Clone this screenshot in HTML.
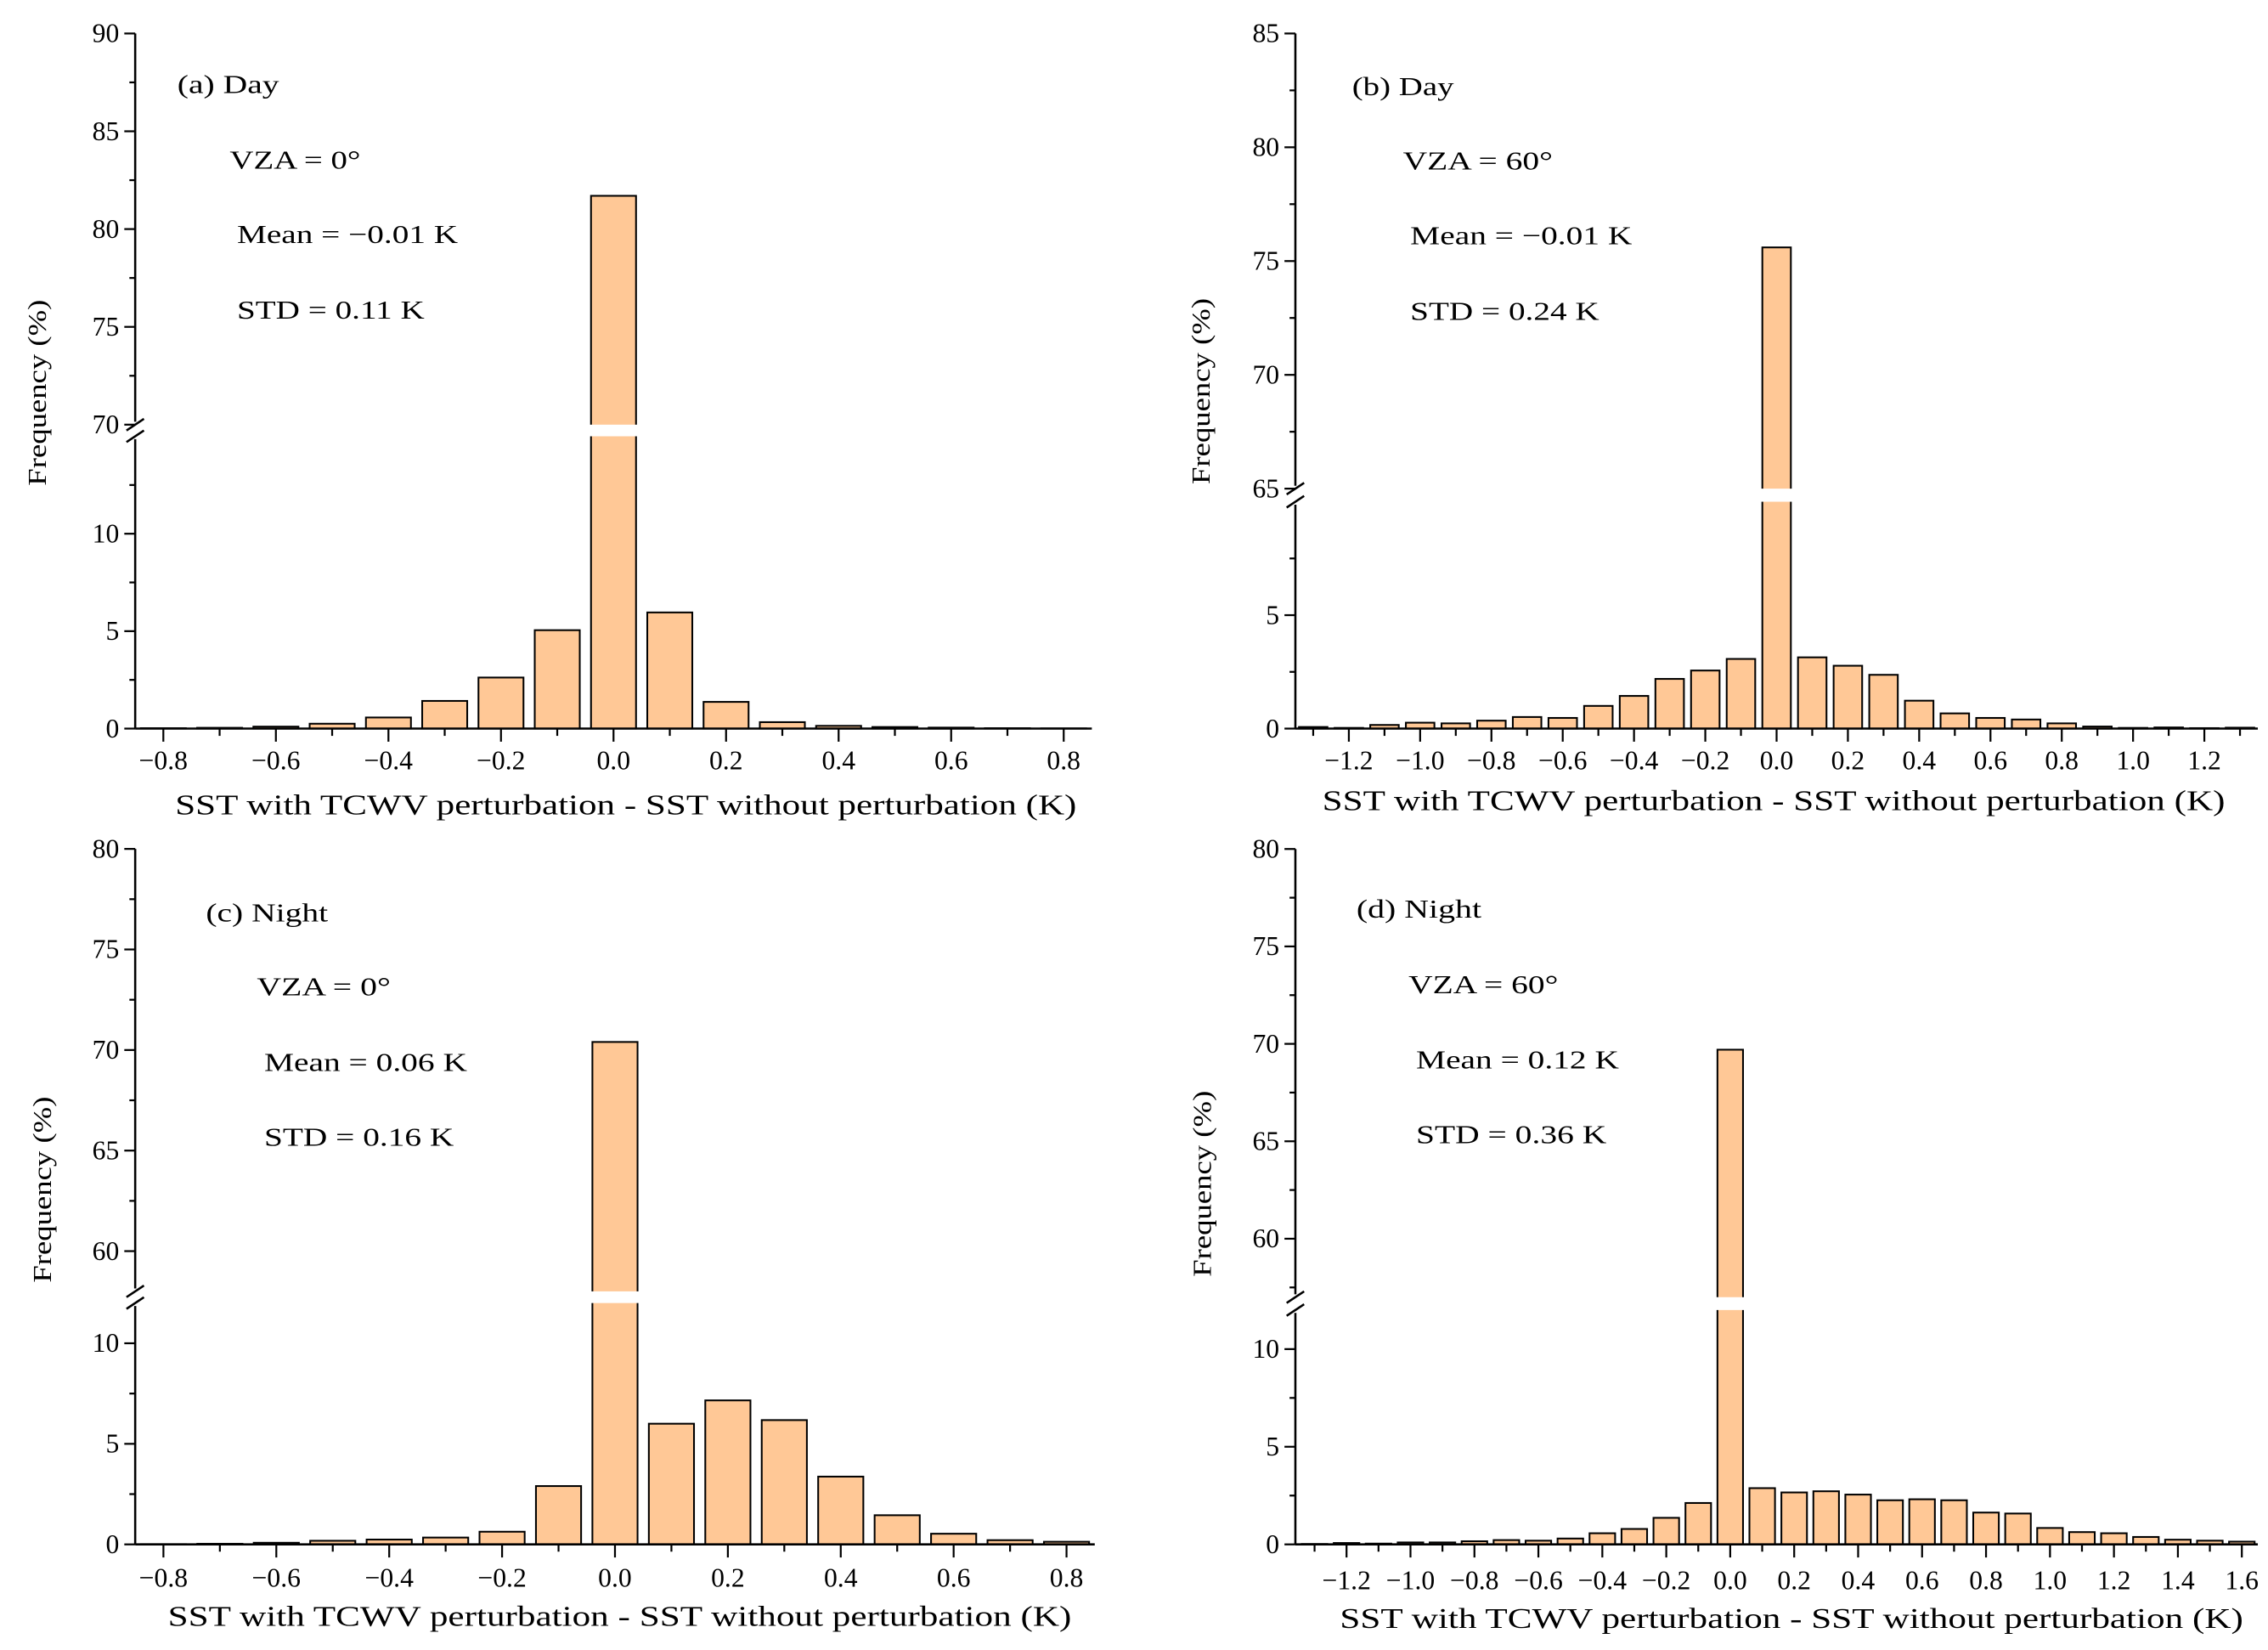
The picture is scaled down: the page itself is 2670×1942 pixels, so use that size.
<!DOCTYPE html>
<html><head><meta charset="utf-8"><style>
html,body{margin:0;padding:0;background:#fff}
svg{display:block}
text{font-family:"Liberation Serif","Times New Roman",serif;fill:#000}
</style></head><body>
<svg id="fig" width="2670" height="1942" viewBox="0 0 1560 1134.6" xmlns="http://www.w3.org/2000/svg"></svg>
<script>
const catsA = [-0.8,-0.7,-0.6,-0.5,-0.4,-0.3,-0.2,-0.1,0,0.1,0.2,0.3,0.4,0.5,0.6,0.7,0.8];
const valsA = [0.02,0.04,0.1,0.25,0.57,1.42,2.62,5.05,81.7,5.96,1.37,0.33,0.14,0.08,0.05,0.02,0.01];
const catsB = [-1.3,-1.2,-1.1,-1.0,-0.9,-0.8,-0.7,-0.6,-0.5,-0.4,-0.3,-0.2,-0.1,0,0.1,0.2,0.3,0.4,0.5,0.6,0.7,0.8,0.9,1.0,1.1,1.2,1.3];
const valsB = [0.07,0.03,0.16,0.26,0.23,0.35,0.51,0.47,1.0,1.44,2.19,2.56,3.07,75.6,3.14,2.77,2.37,1.23,0.67,0.47,0.40,0.23,0.09,0.03,0.05,0.02,0.04];
const catsC = [-0.8,-0.7,-0.6,-0.5,-0.4,-0.3,-0.2,-0.1,0,0.1,0.2,0.3,0.4,0.5,0.6,0.7,0.8];
const valsC = [0.01,0.03,0.08,0.18,0.24,0.34,0.63,2.9,70.4,6.0,7.16,6.18,3.37,1.45,0.53,0.21,0.13];
const catsD = [-1.3,-1.2,-1.1,-1.0,-0.9,-0.8,-0.7,-0.6,-0.5,-0.4,-0.3,-0.2,-0.1,0,0.1,0.2,0.3,0.4,0.5,0.6,0.7,0.8,0.9,1.0,1.1,1.2,1.3,1.4,1.5,1.6];
const valsD = [0.02,0.07,0.04,0.1,0.1,0.16,0.22,0.19,0.3,0.57,0.79,1.36,2.12,69.7,2.88,2.66,2.72,2.55,2.26,2.31,2.26,1.63,1.58,0.84,0.63,0.57,0.38,0.24,0.19,0.14];
const xTicksA = ["−0.8","−0.6","−0.4","−0.2","0.0","0.2","0.4","0.6","0.8"];
const xTicksB = ["−1.2","−1.0","−0.8","−0.6","−0.4","−0.2","0.0","0.2","0.4","0.6","0.8","1.0","1.2"];
const xTicksD = ["−1.2","−1.0","−0.8","−0.6","−0.4","−0.2","0.0","0.2","0.4","0.6","0.8","1.0","1.2","1.4","1.6"];
const yLowA = [0,5,10], yUpA = [70,75,80,85,90];
const yLowB = [0,5], yUpB = [65,70,75,80,85];
const yLowC = [0,5,10], yUpC = [60,65,70,75,80];
const yLowD = [0,5,10], yUpD = [60,65,70,75,80];

const NS="http://www.w3.org/2000/svg";
const svg=document.getElementById('fig');
function mk(tag,attrs,parent){const e=document.createElementNS(NS,tag);for(const k in attrs)e.setAttribute(k,attrs[k]);(parent||svg).appendChild(e);return e;}

const panels=[
 {id:'a',cats:catsA,vals:valsA,xt:xTicksA,yl:yLowA,yu:yUpA,ax:93,ar:751,xmin:-0.85,xmax:0.85,y0:501,ls:13.4,lmax:15,umin:70,uminPix:292,us:13.45,umax:90,
  texts:[["(a) Day",122,64,70],["VZA = 0°",158,116,90],["Mean = −0.01 K",163,167,152],["STD = 0.11 K",163,219,129]],
  xlab:[120.5,560,620],ylab:[31.5,270],tickBase:529},
 {id:'b',cats:catsB,vals:valsB,xt:xTicksB,yl:yLowB,yu:yUpB,ax:891,ar:1553,xmin:-1.35,xmax:1.35,y0:501,ls:15.6,lmax:10,umin:65,uminPix:336,us:15.65,umax:85,
  texts:[["(b) Day",930,65.5,70],["VZA = 60°",965,116.4,103],["Mean = −0.01 K",970,168,152.6],["STD = 0.24 K",970,220,130]],
  xlab:[909.5,557,621],ylab:[832,269],tickBase:529},
 {id:'c',cats:catsC,vals:valsC,xt:xTicksA,yl:yLowC,yu:yUpC,ax:93,ar:753,xmin:-0.85,xmax:0.85,y0:1062,ls:13.83,lmax:12,umin:58,uminPix:888,us:13.83,umax:80,
  texts:[["(c) Night",141.6,633.5,84],["VZA = 0°",176.7,684.4,92],["Mean = 0.06 K",181.7,736.4,139.6],["STD = 0.16 K",181.7,788,130.5]],
  xlab:[115.5,1118,621.5],ylab:[35,818],tickBase:1091},
 {id:'d',cats:catsD,vals:valsD,xt:xTicksD,yl:yLowD,yu:yUpD,ax:891,ar:1553,xmin:-1.36,xmax:1.65,y0:1062,ls:13.43,lmax:12,umin:57,uminPix:892,us:13.4,umax:80,
  texts:[["(d) Night",933,631,86],["VZA = 60°",968.8,683,103],["Mean = 0.12 K",974,734.6,139.6],["STD = 0.36 K",974,786.2,131]],
  xlab:[921.6,1119.4,621.4],ylab:[833,814],tickBase:1093}
];

panels.forEach(p=>{
  const g=mk('g',{});
  
  
  const sx=v=>p.ax+(v-p.xmin)/(p.xmax-p.xmin)*(p.ar-p.ax);
  const lowTopPix=p.y0-p.lmax*p.ls;
  const sy=v=> v<=p.lmax ? p.y0-v*p.ls : p.uminPix-(v-p.umin)*p.us;
  const topPix=sy(p.umax);
  const bw=(sx(0.08)-sx(0));
  p.cats.forEach((c,i)=>{
    const v=p.vals[i];
    const x=sx(c)-bw/2, yt=sy(v);
    const r=mk('rect',{x:x,y:yt,width:bw,height:p.y0-yt,fill:'#FFC896',stroke:'#000','stroke-width':1.2},g);
    
    
    if(v>p.lmax){
      const gap=mk('rect',{x:x-1.5,y:p.uminPix,width:bw+3,height:lowTopPix-p.uminPix,fill:'#fff'},g);
      
      
    }
  });
  const xa=mk('line',{x1:p.ax,y1:p.y0,x2:p.ar,y2:p.y0,stroke:'#000','stroke-width':1.5},g);
  
  
  const start=Math.ceil(p.xmin*10-1e-6), end=Math.floor(p.xmax*10+1e-6);
  for(let k=start;k<=end;k++){
    const major=(k%2===0);
    mk('line',{x1:sx(k/10),y1:p.y0,x2:sx(k/10),y2:p.y0+(major?9:5),stroke:'#000','stroke-width':1.3},g);
  }
  p.xt.forEach(t=>{
    const v=parseFloat(t.replace('−','-'));
    const tx=mk('text',{x:sx(v),y:p.tickBase,'text-anchor':'middle','font-size':18.5},g);
    tx.textContent=t;
    
    
  });
  const ya=mk('line',{x1:p.ax,y1:p.y0,x2:p.ax,y2:lowTopPix+2,stroke:'#000','stroke-width':1.5},g);
  
  
  const yb=mk('line',{x1:p.ax,y1:p.uminPix-2,x2:p.ax,y2:topPix,stroke:'#000','stroke-width':1.5},g);
  
  
  [p.uminPix,lowTopPix].forEach(yy=>{
    const s=mk('line',{x1:p.ax-6,y1:yy+4,x2:p.ax+6,y2:yy-4,stroke:'#000','stroke-width':1.5},g);
    
    
  });
  for(let v=0;v<p.lmax-0.01;v+=2.5){
    const major=(v%5===0);
    mk('line',{x1:p.ax-(major?7.5:4),y1:sy(v),x2:p.ax,y2:sy(v),stroke:'#000','stroke-width':1.3},g);
  }
  for(let v=p.umin;v<=p.umax+0.01;v+=0.5){
    const m=Math.round(v*10)/10;
    if(m%5===0) mk('line',{x1:p.ax-7.5,y1:sy(m),x2:p.ax,y2:sy(m),stroke:'#000','stroke-width':1.3},g);
    else if(m%2.5===0) mk('line',{x1:p.ax-4,y1:sy(m),x2:p.ax,y2:sy(m),stroke:'#000','stroke-width':1.3},g);
  }
  p.yl.concat(p.yu).forEach(v=>{
    const t=mk('text',{x:p.ax-11,y:sy(v)+6,'text-anchor':'end','font-size':18.5},g);
    t.textContent=String(v);
    
    
  });
  p.texts.forEach(([s,x,y,w])=>{
    const t=mk('text',{x:x,y:y,'font-size':18,textLength:w,lengthAdjust:'spacingAndGlyphs'},g);
    t.textContent=s;
    
    
  });
  const xl=mk('text',{x:p.xlab[0],y:p.xlab[1],'font-size':19.5,textLength:p.xlab[2],lengthAdjust:'spacingAndGlyphs'},g);
  xl.textContent='SST with TCWV perturbation - SST without perturbation (K)';
  
  
  const yl=mk('text',{x:0,y:0,'font-size':18,'text-anchor':'middle',textLength:128,lengthAdjust:'spacingAndGlyphs',transform:`translate(${p.ylab[0]},${p.ylab[1]}) rotate(-90)`},g);
  yl.textContent='Frequency (%)';
  
  
});
</script>
</body></html>
